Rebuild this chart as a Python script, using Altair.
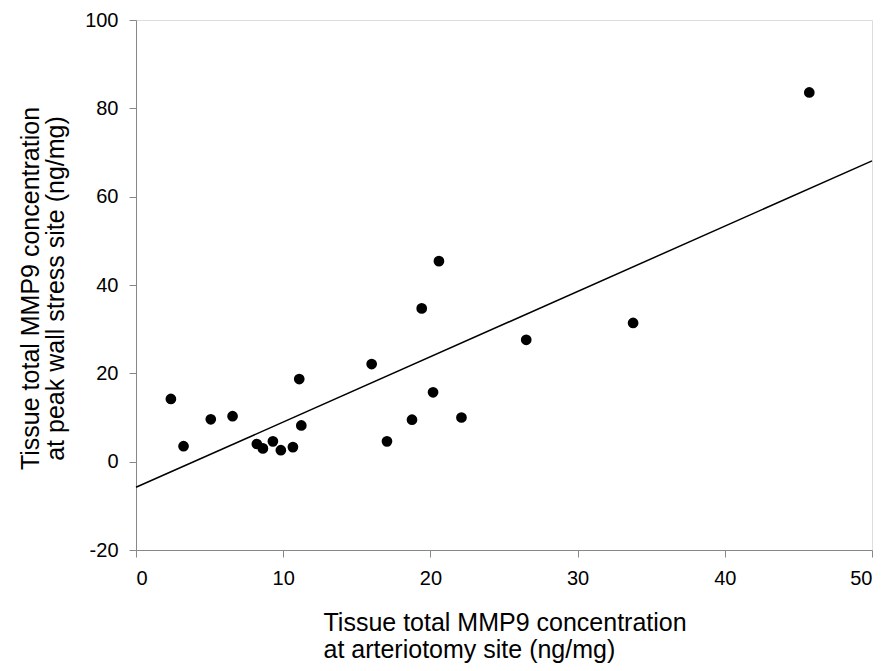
import altair as alt
import pandas as pd

x_vals = [2.37, 3.23, 5.08, 6.56, 8.21, 8.62, 9.30, 9.84, 10.66, 11.09, 11.23,
          16.01, 17.05, 18.75, 19.41, 20.18, 20.58, 22.11, 26.51, 33.77, 45.74]
y_vals = [14.2, 3.5, 9.6, 10.3, 4.0, 3.0, 4.6, 2.6, 3.3, 18.7, 8.2,
          22.1, 4.6, 9.5, 34.7, 15.7, 45.4, 10.0, 27.6, 31.4, 83.6]

line_x = [0, 50]
line_y = [-5.8, 68.1]

x_ticks = [0, 10, 20, 30, 40, 50]
y_ticks = [-20, 0, 20, 40, 60, 80, 100]

x_title = ["Tissue total MMP9 concentration", "at arteriotomy site (ng/mg)"]
y_title = ["Tissue total MMP9 concentration", "at peak wall stress site (ng/mg)"]

pts = pd.DataFrame({"x": x_vals, "y": y_vals})
ln = pd.DataFrame({"x": line_x, "y": line_y})

FONT = "Liberation Sans"
LABEL_EXPR = "datum.value < 0 ? '-' + abs(datum.value) : '' + datum.value"

xscale = alt.Scale(domain=[0, 50], nice=False, zero=False)
yscale = alt.Scale(domain=[-20, 100], nice=False, zero=False)

xaxis = alt.Axis(values=x_ticks, title=x_title, grid=False, tickSize=7,
                 labelPadding=11, labelFontSize=20, labelExpr=LABEL_EXPR,
                 titleFontSize=25,
                 titleAlign="left", titleAnchor="start", titleX=187,
                 titleY=60, titleBaseline="top", titleLineHeight=27,
                 titleFontWeight="normal")
yaxis = alt.Axis(values=y_ticks, title=y_title, grid=False, tickSize=7,
                 labelPadding=11, labelFontSize=20, labelExpr=LABEL_EXPR,
                 titleFontSize=25,
                 titleAlign="center", titleAngle=-90, titleX=-118,
                 titleY=268, titleBaseline="top", titleLineHeight=25,
                 titleFontWeight="normal")

points = alt.Chart(pts).mark_circle(size=115, color="black", opacity=1).encode(
    x=alt.X("x:Q", scale=xscale, axis=xaxis),
    y=alt.Y("y:Q", scale=yscale, axis=yaxis),
)

line = alt.Chart(ln).mark_line(color="black", strokeWidth=1.5).encode(
    x=alt.X("x:Q", scale=xscale),
    y=alt.Y("y:Q", scale=yscale),
)

chart = alt.layer(line, points).properties(
    width=736, height=530,
    autosize=alt.AutoSizeParams(type="none"),
    padding={"left": 128, "top": 12, "right": 8, "bottom": 113},
).configure_view(stroke="black", strokeWidth=1.2).configure_axis(
    domainColor="black", tickColor="black", labelColor="black",
    titleColor="black", labelFont=FONT, titleFont=FONT, domainWidth=1.2,
    tickWidth=1.2,
).configure(background="white")

chart.save("out.html", embed_options={"renderer": "svg", "actions": False})
